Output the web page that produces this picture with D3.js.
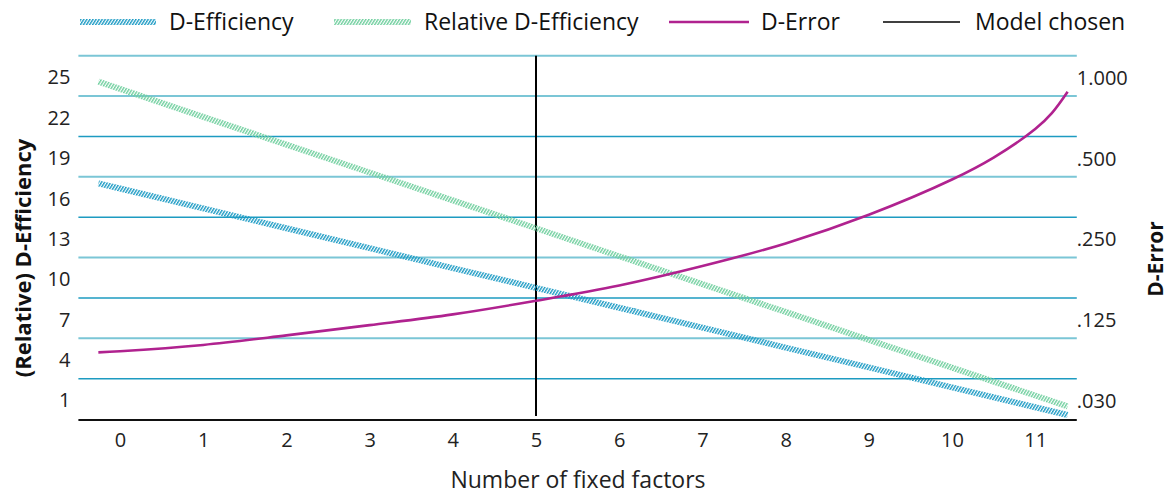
<!DOCTYPE html>
<html>
<head>
<meta charset="utf-8">
<script src="https://cdn.jsdelivr.net/npm/d3@7"></script>
<style>
  html, body { margin: 0; padding: 0; background: #fff; }
  svg { display: block; font-family: "Open Sans", sans-serif; }
</style>
</head>
<body>
<svg id="chart" width="1168" height="495"></svg>
<script>
// ---- data ----
const factorTicks = [0, 1, 2, 3, 4, 5, 6, 7, 8, 9, 10, 11];
const xPoints = [-0.26, 0, 1, 2, 3, 4, 5, 6, 7, 8, 9, 10, 11, 11.39];
const dEfficiency = [17.13, 16.75, 15.27, 13.80, 12.32, 10.84, 9.37, 7.89, 6.41, 4.93, 3.46, 1.98, 0.50, -0.08];
const relDEfficiency = [24.69, 24.15, 22.08, 20.01, 17.94, 15.87, 13.80, 11.72, 9.65, 7.58, 5.51, 3.44, 1.37, 0.56];
const errX = [-0.26, 0, 1, 2, 3, 4, 5, 6, 7, 8, 9, 10, 10.5, 11, 11.2, 11.39];
const dError = [0.0947, 0.0956, 0.1010, 0.1096, 0.1197, 0.1313, 0.1476, 0.1683, 0.1989, 0.2415, 0.3090, 0.4182, 0.505, 0.645, 0.740, 0.889];
const modelChosen = 5;
const leftTicks = [25, 22, 19, 16, 13, 10, 7, 4, 1];
const rightTicks = [1, 0.5, 0.25, 0.125, 0.0625];
const rightTickLabels = ["1.000", ".500", ".250", ".125", ".030"];
const legendItems = ["D-Efficiency", "Relative D-Efficiency", "D-Error", "Model chosen"];

// ---- layout ----
const svg = d3.select("#chart");
const plotLeft = 78.4, plotRight = 1076.8, plotTop = 55.7, plotBottom = 420;
const colBlue = "#1b9ac4", colGreen = "#6fcf9e", colMag = "#b0228f";
const gridLight = "#7bc6d6", gridDark = "#1d9bc1";

const x = d3.scaleLinear().domain([-0.5, 11.5]).range([plotLeft, plotRight]);
const yL = d3.scaleLinear().domain([1, 25]).range([400.5, 77.5]);
const yR = d3.scaleLog().base(2).domain([0.0625, 1]).range([400.8, 78]);
const gridOffset = 1.62;
const gridColors = [gridLight, gridLight, gridDark, gridLight, gridDark, gridLight, gridDark, gridLight, gridDark];

// hatch patterns
const defs = svg.append("defs");
function hatch(id, color) {
  const p = defs.append("pattern").attr("id", id)
    .attr("patternUnits", "userSpaceOnUse")
    .attr("width", 2.6).attr("height", 6)
    .attr("patternTransform", "rotate(32)");
  p.append("rect").attr("x", 0).attr("y", 0).attr("width", 1.4).attr("height", 6).attr("fill", color);
}
hatch("hBlue", colBlue);
hatch("hGreen", colGreen);

// gridlines
svg.append("g").selectAll("line").data(leftTicks).join("line")
  .attr("x1", plotLeft).attr("x2", plotRight)
  .attr("y1", d => yL(d + gridOffset)).attr("y2", d => yL(d + gridOffset))
  .attr("stroke", (d, i) => gridColors[i])
  .attr("stroke-width", (d, i) => gridColors[i] === gridLight ? 2 : 1.6);

const tickFont = 20;
// left axis
const axL = svg.append("g").attr("transform", `translate(${plotLeft - 8},0)`)
  .call(d3.axisLeft(yL).tickValues(leftTicks).tickSize(0).tickPadding(0));
axL.select(".domain").remove();
axL.selectAll("text").attr("font-size", tickFont).attr("fill", "#222").attr("font-family", "Open Sans");

// right axis
const axR = svg.append("g").attr("transform", `translate(${plotRight},0)`)
  .call(d3.axisRight(yR).tickValues(rightTicks).tickSize(0).tickPadding(0)
    .tickFormat((d, i) => rightTickLabels[i]));
axR.select(".domain").remove();
axR.selectAll("text").attr("font-size", tickFont).attr("fill", "#222").attr("font-family", "Open Sans");

// bottom axis
const axB = svg.append("g").attr("transform", `translate(0,${plotBottom})`)
  .call(d3.axisBottom(x).tickValues(factorTicks).tickSize(0).tickPadding(13).tickFormat(d3.format("d")));
axB.select(".domain").remove();
axB.selectAll("text").attr("font-size", tickFont).attr("fill", "#222").attr("font-family", "Open Sans");
svg.append("line").attr("x1", plotLeft).attr("x2", plotRight)
  .attr("y1", plotBottom).attr("y2", plotBottom).attr("stroke", "#111").attr("stroke-width", 2);

// model chosen line
svg.append("line").attr("x1", x(modelChosen)).attr("x2", x(modelChosen))
  .attr("y1", plotTop).attr("y2", plotBottom - 4).attr("stroke", "#000").attr("stroke-width", 2);

// series
const lineL = d3.line().x((d, i) => x(xPoints[i])).y(d => yL(d));
const lineR = d3.line().x((d, i) => x(errX[i])).y(d => yR(d)).curve(d3.curveCatmullRom.alpha(0.5));

svg.append("path").datum(relDEfficiency).attr("d", lineL)
  .attr("fill", "none").attr("stroke", "url(#hGreen)").attr("stroke-width", 6);
svg.append("path").datum(dEfficiency).attr("d", lineL)
  .attr("fill", "none").attr("stroke", "url(#hBlue)").attr("stroke-width", 6);
svg.append("path").datum(dError).attr("d", lineR)
  .attr("fill", "none").attr("stroke", colMag).attr("stroke-width", 2.6);

// axis titles
svg.append("text").attr("transform", "translate(31,258) rotate(-90)")
  .attr("text-anchor", "middle").attr("font-weight", "bold").attr("font-size", 22).attr("fill", "#111")
  .text("(Relative) D-Efficiency");
svg.append("text").attr("transform", "translate(1163,259) rotate(-90)")
  .attr("text-anchor", "middle").attr("font-weight", "bold").attr("font-size", 21).attr("fill", "#111")
  .text("D-Error");
svg.append("text").attr("x", 578).attr("y", 488)
  .attr("text-anchor", "middle").attr("font-size", 23).attr("fill", "#222")
  .text("Number of fixed factors");

// legend
const legendLayout = [
  { x1: 80, x2: 156, tx: 169, stroke: "url(#hBlue)", w: 6 },
  { x1: 334, x2: 411, tx: 424, stroke: "url(#hGreen)", w: 6 },
  { x1: 669, x2: 749, tx: 761, stroke: colMag, w: 2.6 },
  { x1: 883, x2: 960, tx: 975, stroke: "#000", w: 1.6 }
];
const lg = svg.append("g").selectAll("g").data(legendItems).join("g");
lg.append("line")
  .attr("x1", (d, i) => legendLayout[i].x1).attr("x2", (d, i) => legendLayout[i].x2)
  .attr("y1", 22).attr("y2", 22)
  .attr("stroke", (d, i) => legendLayout[i].stroke).attr("stroke-width", (d, i) => legendLayout[i].w);
lg.append("text").attr("x", (d, i) => legendLayout[i].tx).attr("y", 30)
  .attr("font-size", 23).attr("fill", "#111").text(d => d);
</script>
</body>
</html>
